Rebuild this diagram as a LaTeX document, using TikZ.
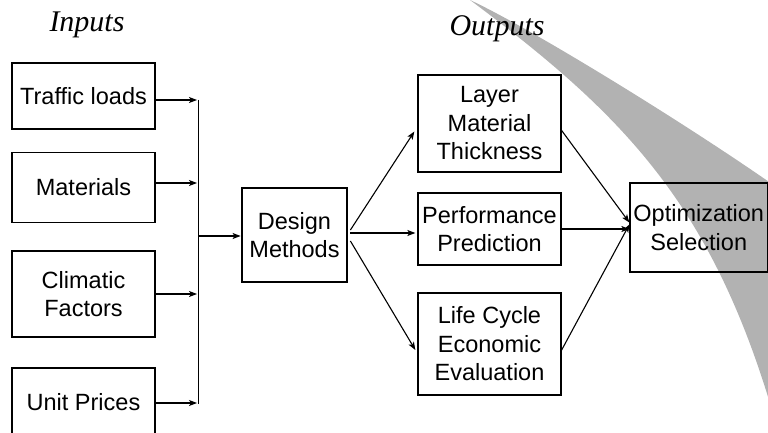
\documentclass[tikz,border=0pt]{standalone}
\usepackage{fontspec}
\setmainfont{Liberation Sans}
\newfontfamily\tms{Liberation Serif}
\usetikzlibrary{arrows.meta}
\definecolor{curl}{RGB}{178,178,178}
\tikzset{
  box/.style={draw=black, line width=1.3pt, align=center, inner sep=1pt,
    font=\fontsize{23.5}{28.5}\selectfont},
  arr/.style={-{Stealth[length=8pt,width=6pt,inset=2pt]}, line width=1.1pt},
  ln/.style={line width=1.1pt},
  ttl/.style={font=\tms\itshape\fontsize{30}{34}\selectfont, anchor=base}
}
\begin{document}
\begin{tikzpicture}[x=1pt,y=-1pt]
\clip (0,0) rectangle (768,433);
\useasboundingbox (0,0) rectangle (768,433);
% gray curl
\fill[curl] (470,0) .. controls (530,28) and (680,120) .. (772,184)
  -- (772,410) .. controls (710,201) and (620,112) .. (470,0) -- cycle;
% titles
\node[ttl] (tin) at (87,32) {Inputs};
\node[ttl] (tout) at (497,36) {Outputs};
% inputs
\node[box, minimum width=143pt, minimum height=66pt] (tl) at (83.5,96) {Traffic loads};
\node[box, minimum width=143pt, minimum height=70pt] (mat) at (83.5,187.5) {Materials};
\node[box, minimum width=143pt, minimum height=86pt] (cli) at (83.5,294) {Climatic\\Factors};
\node[box, minimum width=143pt, minimum height=68pt] (up) at (83.5,402) {Unit Prices};
% design
\node[box, line width=2.8pt, minimum width=105pt, minimum height=94pt] (dm) at (294.5,235) {Design\\Methods};
% outputs
\node[box, minimum width=143pt, minimum height=97pt] (lay) at (489.5,123.5) {Layer\\Material\\Thickness};
\node[box, minimum width=143pt, minimum height=72pt] (perf) at (489.5,229) {Performance\\Prediction};
\node[box, minimum width=143pt, minimum height=102pt] (life) at (489.5,344) {Life Cycle\\Economic\\Evaluation};
\node[box, minimum width=137.5pt, minimum height=89pt] (opt) at (698.75,227.5) {Optimization\\Selection};
% bus
\coordinate (b1) at (197,100);
\coordinate (b2) at (197,183);
\coordinate (b3) at (197,294);
\coordinate (b4) at (197,403);
\coordinate (bm) at (198.5,236);
\draw[ln] (198.5,100) -- (198.5,403.5);
\draw[arr] (tl.east |- b1) -- (b1);
\draw[arr] (mat.east |- b2) -- (b2);
\draw[arr] (cli.east |- b3) -- (b3);
\draw[arr] (up.east |- b4) -- (b4);
\draw[arr] (bm) -- (dm.west |- bm);
% design to outputs
\draw[arr] ([xshift=2pt,yshift=5pt]dm.east) -- ([xshift=-3pt,yshift=-8pt]lay.west);
\draw[arr] ([xshift=2pt,yshift=2pt]dm.east) -- ([xshift=-2pt,yshift=-4pt]perf.west);
\draw[arr] ([xshift=2pt,yshift=-6pt]dm.east) -- ([xshift=-2pt,yshift=-6pt]life.west);
% outputs to optimization
\draw[arr] ([yshift=-7pt]lay.east) -- ([yshift=5pt]opt.west);
\draw[arr] ([yshift=0pt]perf.east) -- ([yshift=-1.5pt]opt.west);
\draw[arr] ([yshift=-6pt]life.east) -- ([yshift=3pt]opt.west);
\end{tikzpicture}
\end{document}
